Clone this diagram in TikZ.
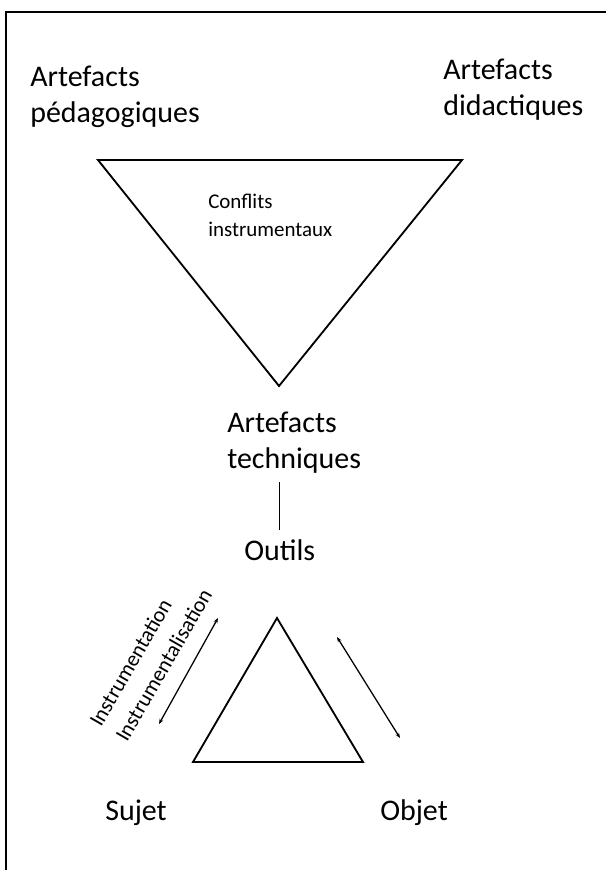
\documentclass[tikz,border=0pt]{standalone}
\usepackage{fontspec}
\setmainfont{Carlito}
\usetikzlibrary{arrows.meta}
\tikzset{
  big/.style={font=\fontsize{21.3}{24.9}\selectfont, inner sep=0pt, align=left, anchor=base west},
  small/.style={font=\fontsize{14.9}{19.9}\selectfont, inner sep=0pt, align=left, anchor=base west},
  diag/.style={font=\fontsize{15.4}{21.3}\selectfont, inner sep=0pt, align=left, anchor=base west, rotate=60},
  tri/.style={line width=1.3pt, line join=miter},
  arr/.style={line width=0.9pt, {Stealth[length=1.3mm,width=1mm]}-{Stealth[length=1.3mm,width=1mm]}}
}
\begin{document}
\begin{tikzpicture}[x=0.025cm,y=-0.025cm]
  \useasboundingbox (0,0) rectangle (606,870);
  \draw[line width=1.8pt] (606,12) -- (6,12) -- (6,870);
  \draw
    (30,122) node[big] (pedago){Artefacts\\pédagogiques}
    (443,115) node[big] (didact){Artefacts\\didactiques}
    (208,236) node[small] (conflits){Conflits\\instrumentaux}
    (227,468) node[big] (techniques){Artefacts\\techniques}
    (244,560) node[big] (outils){Outils}
    (105,820) node[big] (sujet){Sujet}
    (380,820) node[big] (objet){Objet}
    (127,743) node[diag] (instr){Instrumentation\\Instrumentalisation};
  % triangles
  \draw[tri] (98,160) -- (462,160) -- (279,386) -- cycle;
  \draw[tri] (277,618) -- (363,762) -- (193,762) -- cycle;
  \coordinate (la) at (159,724);
  \coordinate (lb) at (218,618);
  \coordinate (ra) at (337,637);
  \coordinate (rb) at (400,738);
  \begin{scope}[line width=0.8pt]
    \draw[shorten <=0.225cm, shorten >=0.225cm] (techniques.south -| outils.north) to (outils.north);
    \draw[arr] (la) to (lb);
    \draw[arr] (ra) to (rb);
  \end{scope}
\end{tikzpicture}
\end{document}
